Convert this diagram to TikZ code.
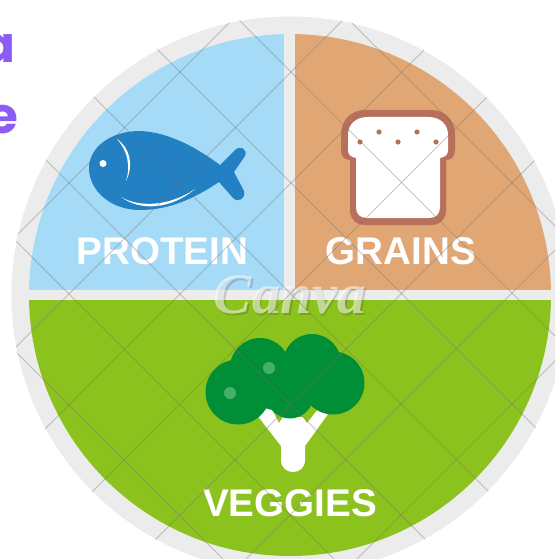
\documentclass[tikz,border=0pt]{standalone}
\usepackage{fontspec}
\usepackage{xcolor}
\usetikzlibrary{positioning}
\setmainfont{Liberation Sans}
\newfontfamily\headfont{Poppins}
\newfontfamily\labelfont{Liberation Sans}
\newfontfamily\markfont{Liberation Serif}
\definecolor{rimgrey}{HTML}{ECECEC}
\definecolor{proteinblue}{HTML}{A6DBF7}
\definecolor{grainorange}{HTML}{E0A775}
\definecolor{veggiegreen}{HTML}{8CC21E}
\definecolor{fishblue}{HTML}{2280C3}
\definecolor{crustbrown}{HTML}{B8705A}
\definecolor{floretgreen}{HTML}{008F36}
\definecolor{headpurple}{HTML}{8B5CF6}
\tikzset{
    foodlabel/.style={text=white, inner sep=0pt, font=\labelfont\bfseries\fontsize{38.6}{38.6}\selectfont},
    headletter/.style={text=headpurple, inner sep=0pt, anchor=base east, font=\headfont\bfseries\fontsize{50}{50}\selectfont},
    markletter/.style={inner sep=0pt, font=\markfont\bfseries\itshape\fontsize{57}{57}\selectfont},
    gridline/.style={draw=black!55, opacity=0.4, line width=0.9pt},
    floret/.style={fill=floretgreen},
    highlight/.style={fill=white, fill opacity=0.28},
}

\begin{document}
\begin{tikzpicture}[x=1pt, y=-1pt]
    \useasboundingbox (0,0) rectangle (555,559);
    \clip (0,0) rectangle (555,559);
    \fill[white] (0,0) rectangle (555,559);

    % plate
    \fill[rimgrey] (290,295) circle (278.5);
    \begin{scope}
        \clip (290,295) circle (261);
        \fill[proteinblue] (20,25) rectangle (284,290);
        \fill[grainorange] (295,25) rectangle (560,290);
        \fill[veggiegreen] (20,300) rectangle (560,565);
    \end{scope}

    % clipped heading letters
    \node[headletter] (heada) at (15.5,63) {a};
    \node[headletter] (heade) at (18.5,133) {e};

    % fish
    \fill[fishblue] (89,168) .. controls (89,148) and (110,131) .. (140,131)
        .. controls (170,132) and (200,150) .. (220,165)
        -- (235,150) .. controls (240,145) and (248,149) .. (245,156)
        -- (234,172) -- (244,191) .. controls (246,199) and (238,203) .. (233,198)
        -- (219,182) .. controls (195,198) and (170,210) .. (140,210)
        .. controls (110,210) and (89,190) .. (89,168) -- cycle;
    \fill[white] (103,163.5) circle (3.5);
    \fill[white] (117,139) .. controls (130,148) and (134,165) .. (126,181)
        .. controls (131,165) and (127,150) .. (117,139) -- cycle;
    \fill[white] (121,197) .. controls (140,208) and (170,206) .. (195,189)
        .. controls (170,210) and (140,211) .. (121,197) -- cycle;

    % bread
    \fill[crustbrown] (365,110) -- (431,110) .. controls (445,110) and (455,120) .. (455,135)
        -- (455,150) .. controls (455,157) and (451,160) .. (446,160)
        -- (446,210) .. controls (446,219) and (440,225) .. (431,225)
        -- (365,225) .. controls (356,225) and (350,219) .. (350,210)
        -- (350,160) .. controls (345,160) and (341,157) .. (341,150)
        -- (341,135) .. controls (341,120) and (351,110) .. (365,110) -- cycle;
    \fill[white] (368,117) -- (428,117) .. controls (440,117) and (448,124) .. (448,135)
        -- (448,150) .. controls (448,155) and (445,157) .. (440,158)
        -- (440,207) .. controls (440,214) and (436,218) .. (429,218)
        -- (367,218) .. controls (360,218) and (356,214) .. (356,207)
        -- (356,158) .. controls (351,157) and (348,155) .. (348,150)
        -- (348,135) .. controls (348,124) and (356,117) .. (368,117) -- cycle;
    \foreach \x/\y in {360/142, 379/132, 398/142, 417/132, 436/142}
        \fill[crustbrown] (\x,\y) circle (2.6);

    % broccoli
    \fill[white] (257,415) -- (270,406) -- (279,423) -- (283,417) -- (303,417) -- (307,423)
        -- (318,409) -- (328,414) -- (305,446) -- (305,460)
        .. controls (305,476) and (281,476) .. (281,460) -- (281,446) -- cycle;
    \fill[floret] (238,392) circle (32.5);
    \fill[floret] (260,368) circle (30);
    \fill[floret] (312,363) circle (29);
    \fill[floret] (333,383) circle (31.5);
    \fill[floret] (290,395) circle (23.5);
    \fill[floret] (275,385) circle (25);
    \fill[floret] (300,380) circle (25);
    \fill[highlight] (230,393) circle (6);
    \fill[highlight] (269,368) circle (6);

    % labels
    \node[foodlabel] (protein) at (162.5,251) {PROTEIN};
    \node[foodlabel] (grains) at (401,251) {GRAINS};
    \node[foodlabel] (veggies) at (290,503.5) {VEGGIES};

    % stock image marks
    \node[markletter, text=black, opacity=0.15] (markshadow) at (291.5,296.5) {Canva};
    \node[markletter, text=white, opacity=0.55] (canva) at (290,295) {Canva};

    \begin{scope}
        \clip (290,295) circle (279);
        \foreach \c in {31,142,252,363,474,584,695,805,916}
            \draw[gridline] (\c,0) -- (\c-600,600);
        \foreach \c in {-447,-336,-225,-114,-3,108,219,329,440}
            \draw[gridline] (\c,0) -- (\c+600,600);
    \end{scope}
\end{tikzpicture}
\end{document}
